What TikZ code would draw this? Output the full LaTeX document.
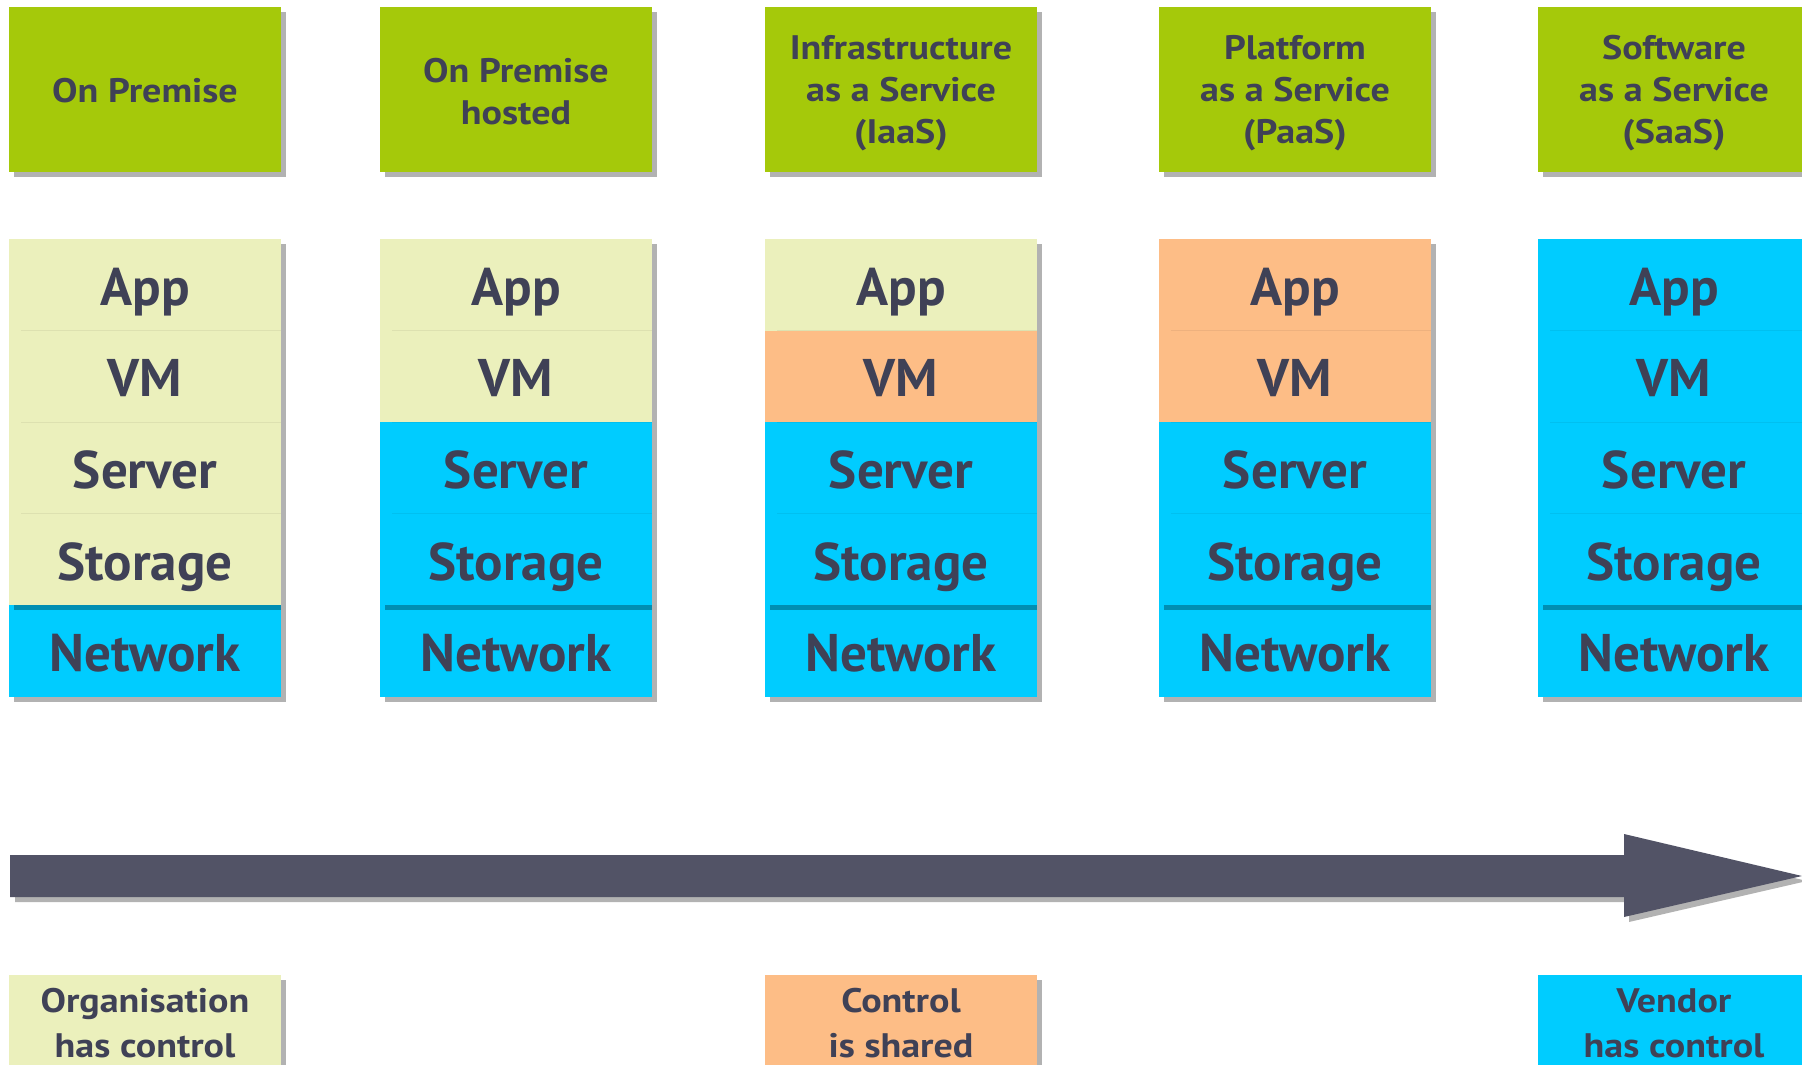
\documentclass[tikz,border=0pt]{standalone}
\usepackage{fontspec}
\setmainfont{PT Sans}
\newfontfamily\widefont[FakeStretch=1.12]{PT Sans}
\usetikzlibrary{shadows}
\definecolor{hdr}{HTML}{A5C90A}
\definecolor{cream}{HTML}{EBF0BC}
\definecolor{peach}{HTML}{FDBD86}
\definecolor{cyanb}{HTML}{00CCFF}
\definecolor{txt}{HTML}{3F4156}
\definecolor{arr}{HTML}{525366}
\begin{document}
\begin{tikzpicture}[x=1pt,y=-1pt,
  shad/.style={drop shadow={shadow xshift=5pt,shadow yshift=-5pt,fill=black,opacity=0.3}},
  hdrbox/.style={shad,fill=hdr,anchor=north west,inner sep=0pt,outer sep=0pt,
    minimum width=272pt,minimum height=165pt},
  hdrtxt/.style={align=center,text=txt,inner sep=0pt,
    font=\widefont\fontsize{34}{42}\selectfont\bfseries},
  cell/.style={fill=#1,anchor=north west,inner sep=0pt,outer sep=0pt,
    minimum width=272pt,minimum height=91.6pt,text=txt,
    text height=41pt,text depth=0pt,
    font=\fontsize{53}{60}\selectfont\bfseries},
  divider/.style={draw=black,opacity=0.06,line width=1.2pt},
  botbox/.style={shad,fill=#1,anchor=north west,inner sep=0pt,outer sep=0pt,
    minimum width=272pt,minimum height=130pt},
  bottxt/.style={align=center,text=txt,inner sep=0pt,
    font=\widefont\fontsize{34}{45}\selectfont\bfseries},
]
\useasboundingbox (0,0) rectangle (1802,1065);
\clip (0,0) rectangle (1802,1065);
\fill[white] (0,0) rectangle (1802,1065);

% headers
\node[hdrbox] (hdr1) at (9,7) {};
\node[hdrbox] (hdr2) at (380,7) {};
\node[hdrbox] (hdr3) at (765,7) {};
\node[hdrbox] (hdr4) at (1159,7) {};
\node[hdrbox] (hdr5) at (1538,7) {};
\node[hdrtxt] (hdr1t) at ([yshift=-1pt]hdr1.center) {On Premise};
\node[hdrtxt] (hdr2t) at ([yshift=-2pt]hdr2.center) {On Premise\\hosted};
\node[hdrtxt] (hdr3t) at ([yshift=-4pt]hdr3.center) {Infrastructure\\as a Service\\(IaaS)};
\node[hdrtxt] (hdr4t) at ([yshift=-4pt]hdr4.center) {Platform\\as a Service\\(PaaS)};
\node[hdrtxt] (hdr5t) at ([yshift=-4pt]hdr5.center) {Software\\as a Service\\(SaaS)};

% stacks
\foreach \i/\x/\ca/\cv/\cs/\ct in {1/9/cream/cream/cream/cream,
    2/380/cream/cream/cyanb/cyanb, 3/765/cream/peach/cyanb/cyanb,
    4/1159/peach/peach/cyanb/cyanb, 5/1538/cyanb/cyanb/cyanb/cyanb}{
  \node[cell=cyanb,shad] (net\i) at (\x,605.4) {Network};
  \fill[white,shad] (\x,239) rectangle ++(272,366.4);
  \node[cell=\ca] (app\i) at (\x,239) {App};
  \node[cell=\cv] (vm\i) at (\x,330.6) {VM};
  \node[cell=\cs] (srv\i) at (\x,422.2) {Server};
  \node[cell=\ct] (sto\i) at (\x,513.8) {Storage};
  \draw[divider] ([xshift=12pt]app\i.south west) -- (app\i.south east);
  \draw[divider] ([xshift=12pt]vm\i.south west) -- (vm\i.south east);
  \draw[divider] ([xshift=12pt]srv\i.south west) -- (srv\i.south east);
}

% arrow
\fill[arr,shad] (10,855) -- (1624,855) -- (1624,834) -- (1802,876)
  -- (1624,917) -- (1624,897) -- (10,897) -- cycle;

% bottom legend
\node[botbox=cream] (org) at (9,975) {};
\node[bottxt] (orgt) at ([yshift=-48.5pt]org.north) {Organisation\\has control};
\node[botbox=peach] (shr) at (765,975) {};
\node[bottxt] (shrt) at ([yshift=-48.5pt]shr.north) {Control\\is shared};
\node[botbox=cyanb] (ven) at (1538,975) {};
\node[bottxt] (vent) at ([yshift=-48.5pt]ven.north) {Vendor\\has control};
\end{tikzpicture}
\end{document}
